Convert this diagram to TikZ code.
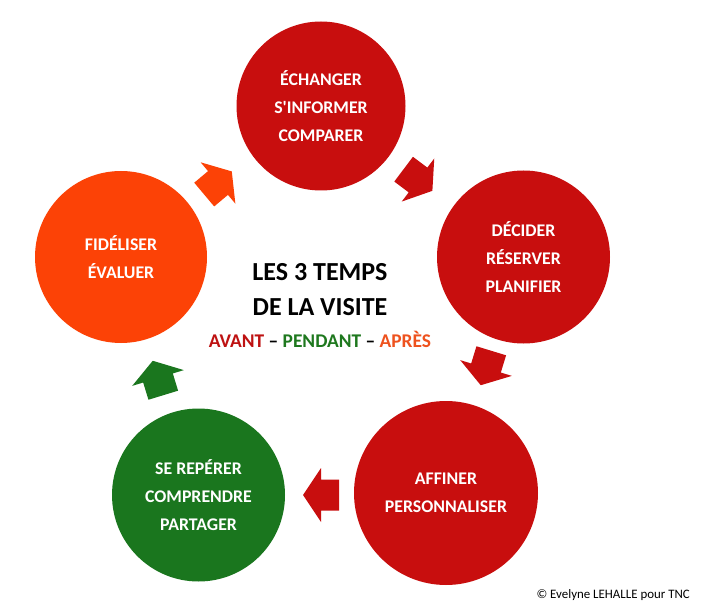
\documentclass[tikz,border=0pt]{standalone}
\usepackage{fontspec}
\setmainfont{Carlito}[Ligatures=TeXOff]
\definecolor{cred}{RGB}{200,14,14}
\definecolor{corange}{RGB}{252,66,6}
\definecolor{cgreen}{RGB}{26,118,30}
\definecolor{tred}{RGB}{190,18,18}
\definecolor{tgreen}{RGB}{30,120,30}
\definecolor{torange}{RGB}{238,82,30}
\tikzset{
  x=1pt, y=-1pt,
  stage/.style={circle, inner sep=0pt, minimum size=#1, text=white, align=center,
    font=\fontsize{17.8}{28}\selectfont\bfseries},
  blockarrow/.pic={\fill[#1] (-18,-15.5) -- (0,-15.5) -- (0,-27) -- (18,0) -- (0,27) -- (0,15.5) -- (-18,15.5) -- cycle;},
  title/.style={anchor=base, inner sep=0pt, font=\fontsize{26}{35}\selectfont\bfseries},
}
\begin{document}
\begin{tikzpicture}
\useasboundingbox[fill=white] (0,0) rectangle (705,615);
\node[stage=169pt, fill=cred] (c1) at (321,106) {ÉCHANGER\\S'INFORMER\\COMPARER};
\node[stage=173pt, fill=cred] (c2) at (523.5,257) {DÉCIDER\\RÉSERVER\\PLANIFIER};
\node[stage=184pt, fill=cred] (c3) at (446,493) {AFFINER\\PERSONNALISER};
\node[stage=173pt, fill=cgreen] (c4) at (198.5,495) {SE REPÉRER\\COMPRENDRE\\PARTAGER};
\node[stage=172pt, fill=corange] (c5) at (121,257) {FIDÉLISER\\ÉVALUER};
\pic[rotate=40] at (218,183) {blockarrow=corange};
\pic[rotate=-37] at (418,180) {blockarrow=cred};
\pic[rotate=-107] at (486,368) {blockarrow=cred};
\pic[rotate=180] at (321,495) {blockarrow=cred};
\pic[rotate=107] at (158,378) {blockarrow=cgreen};
\node[title] (t1) at (320,280) {LES 3 TEMPS};
\node[title] (t2) at (320,315) {DE LA VISITE};
\node[anchor=base, inner sep=0pt, font=\fontsize{19.4}{22}\selectfont\bfseries] (t3) at (320,347)
  {\textcolor{tred}{AVANT} – \textcolor{tgreen}{PENDANT} – \textcolor{torange}{APRÈS}};
\node[anchor=base east, inner sep=0pt, font=\fontsize{12.9}{15}\selectfont] (cp) at (690,598) {© Evelyne LEHALLE pour TNC};
\end{tikzpicture}
\end{document}
